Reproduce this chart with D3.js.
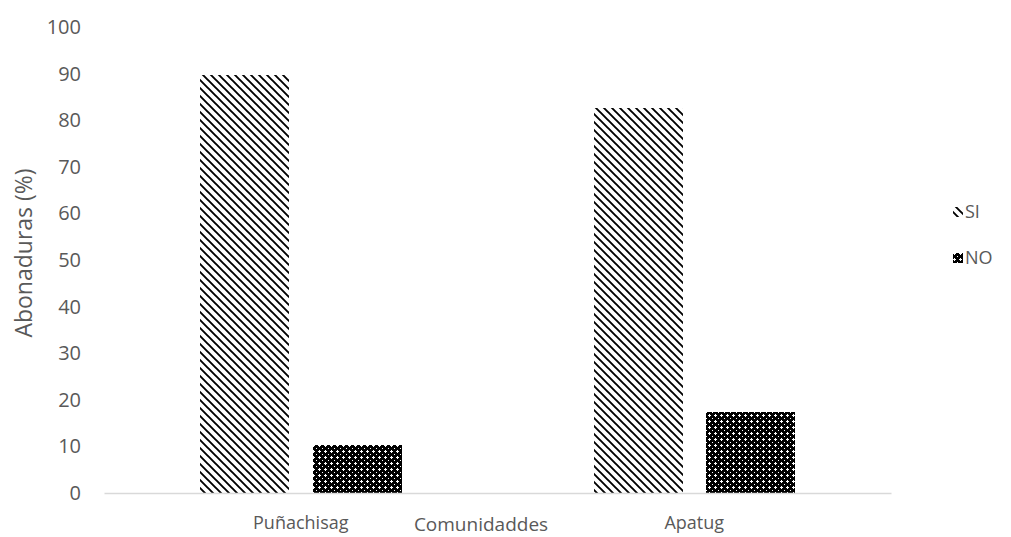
<!DOCTYPE html>
<html>
<head>
<meta charset="utf-8">
<script src="https://cdn.jsdelivr.net/npm/d3@7"></script>
<style>
  html, body { margin: 0; padding: 0; background: #fff; }
  svg { display: block; }
  text { font-family: "Open Sans", sans-serif; fill: #595959; }
</style>
</head>
<body>
<svg id="chart" width="1011" height="537"></svg>
<script>
const categories = ["Puñachisag", "Apatug"];
const seriesNames = ["SI", "NO"];
const siValues = [89.7, 82.6];
const noValues = [10.3, 17.4];
const yTicks = [0, 10, 20, 30, 40, 50, 60, 70, 80, 90, 100];
const yTitle = "Abonaduras (%)";
const xTitle = "Comunidaddes";

(function () {
const svg = d3.select("#chart");
const defs = svg.append("defs");

// SI pattern: wide downward diagonal
const p1 = defs.append("pattern").attr("id", "patSI")
  .attr("patternUnits", "userSpaceOnUse").attr("width", 8).attr("height", 8);
p1.append("rect").attr("width", 8).attr("height", 8).attr("fill", "#fff");
p1.append("path").attr("d", "M-1,-1 L9,9 M-3,5 L3,11 M5,-3 L11,3")
  .attr("stroke", "#000").attr("stroke-width", 1.9);

// NO pattern: dark trellis-like
const p2 = defs.append("pattern").attr("id", "patNO")
  .attr("patternUnits", "userSpaceOnUse").attr("width", 6).attr("height", 6);
p2.append("rect").attr("width", 6).attr("height", 6).attr("fill", "#000");
[[1,0],[0,1],[1,1],[2,1],[1,2],[4,4]].forEach(([px,py]) => {
  p2.append("rect").attr("x", px).attr("y", py).attr("width", 1).attr("height", 1)
    .attr("fill", "#fff").attr("shape-rendering", "crispEdges");
});
const fills = { SI: "url(#patSI)", NO: "url(#patNO)" };

const mLeft = 104, mRight = 891, mTop = 27, mBottom = 493;
const y = d3.scaleLinear().domain([0, 100]).range([mBottom, mTop]);
const x0 = d3.scaleBand().domain(categories).range([mLeft, mRight]).padding(0);
const x1 = d3.scaleBand().domain(seriesNames).range([0, x0.bandwidth()])
  .paddingInner(0.213).paddingOuter(0.855);

const data = [];
categories.forEach((c, i) => {
  data.push({ cat: c, key: "SI", v: siValues[i] });
  data.push({ cat: c, key: "NO", v: noValues[i] });
});

svg.append("g").selectAll("rect").data(data).join("rect")
  .attr("x", d => Math.round(x0(d.cat) + x1(d.key)))
  .attr("y", d => Math.round(y(d.v)))
  .attr("width", Math.round(x1.bandwidth()))
  .attr("height", d => Math.round(y(0)) - Math.round(y(d.v)))
  .attr("fill", d => fills[d.key]);

// y axis labels
const yAxis = d3.axisLeft(y).tickValues(yTicks).tickSize(0).tickPadding(23);
const gy = svg.append("g").attr("transform", `translate(${mLeft},0)`).call(yAxis);
gy.select(".domain").remove();
gy.selectAll("text").style("font-family", "'Open Sans', sans-serif")
  .style("font-size", "20px").attr("fill", "#595959");

// x axis
const xAxis = d3.axisBottom(x0).tickSize(0).tickPadding(23);
const gx = svg.append("g").attr("transform", `translate(0,${mBottom})`).call(xAxis);
gx.select(".domain").attr("stroke", "#d9d9d9").attr("stroke-width", 1.5);
gx.selectAll("text").style("font-family", "'Open Sans', sans-serif")
  .style("font-size", "18px").attr("fill", "#595959");

// axis titles
svg.append("text").attr("transform", `translate(32,253) rotate(-90)`)
  .attr("text-anchor", "middle").style("font-size", "23px").text(yTitle);
svg.append("text").attr("x", 481).attr("y", 531)
  .attr("text-anchor", "middle").style("font-size", "19px").text(xTitle);

// legend
const leg = svg.append("g").selectAll("g").data(seriesNames).join("g")
  .attr("transform", (d, i) => `translate(953,${212 + i * 46})`);
leg.append("rect").attr("x", 0).attr("y", -5).attr("width", 10).attr("height", 10)
  .attr("fill", d => fills[d]);
leg.append("text").attr("x", 12).attr("y", 0).attr("dy", "0.35em")
  .style("font-size", "18px").text(d => d);
})();
</script>
</body>
</html>
